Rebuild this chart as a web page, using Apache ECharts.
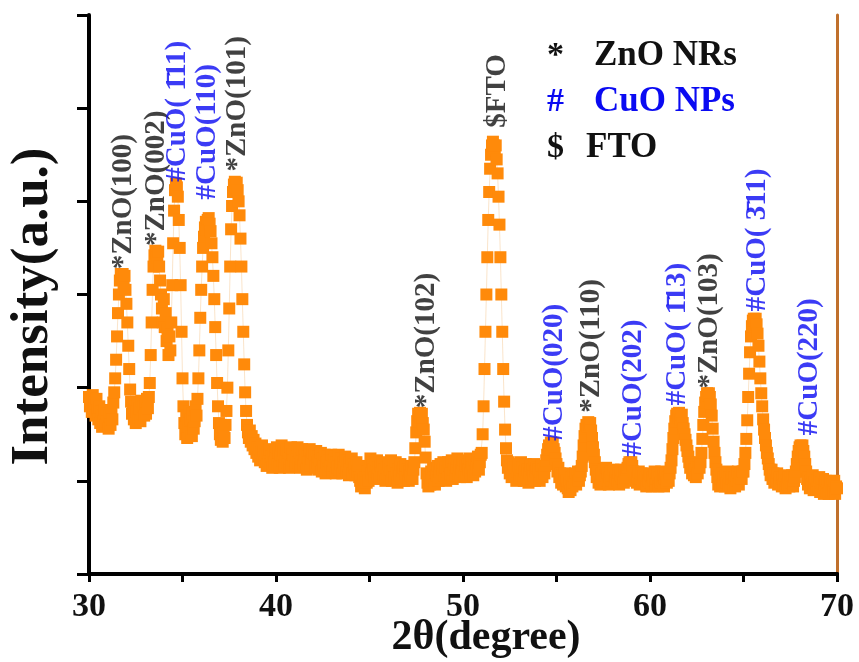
<!DOCTYPE html>
<html>
<head>
<meta charset="utf-8">
<script src="https://cdn.jsdelivr.net/npm/echarts@6/dist/echarts.min.js"></script>
<style>html,body{margin:0;padding:0;background:#fff}#c{width:859px;height:662px}</style>
</head>
<body>
<div id="c"></div>
<script>
const twoThetaStart = 30;
const twoThetaStep = 0.05;
const intensity = [
  1.90,1.80,1.86,1.74,1.92,1.78,1.84,1.70,1.88,1.76,1.66,1.80,1.62,1.74,1.58,1.70,1.64,1.76,1.60,1.72,
  1.64,1.56,1.70,1.60,1.76,1.66,1.84,1.95,2.10,2.30,2.55,2.80,3.00,3.15,3.22,3.18,3.22,3.12,3.20,3.05,
  2.90,2.70,2.45,2.20,1.98,1.85,1.72,1.80,1.66,1.76,1.62,1.74,1.84,1.68,1.78,1.64,1.86,1.72,1.80,1.70,
  1.82,1.72,1.88,1.78,1.90,2.05,2.35,2.70,3.05,3.30,3.42,3.47,3.44,3.40,3.46,3.30,3.15,3.00,2.85,2.70,
  2.95,2.65,2.80,2.50,2.62,2.35,2.55,2.40,2.70,3.10,3.55,3.90,4.12,4.19,4.15,4.05,3.80,3.50,3.10,2.60,
  2.10,1.80,1.62,1.50,1.70,1.46,1.58,1.74,1.52,1.66,1.48,1.72,1.56,1.64,1.80,1.70,1.88,2.10,2.40,2.75,
  3.05,3.30,3.50,3.62,3.72,3.78,3.70,3.80,3.82,3.76,3.68,3.55,3.40,3.20,2.95,2.65,2.35,2.05,1.80,1.62,
  1.50,1.44,1.58,1.42,1.52,1.46,1.60,1.75,2.00,2.40,2.85,3.30,3.70,3.95,4.10,4.18,4.21,4.15,4.20,4.12,
  4.00,3.85,3.60,3.30,2.95,2.60,2.25,1.95,1.75,1.60,1.52,1.46,1.54,1.42,1.48,1.38,1.44,1.34,1.40,1.30,
  1.36,1.26,1.34,1.22,1.30,1.38,1.24,1.32,1.20,1.28,1.16,1.30,1.22,1.34,1.18,1.26,1.14,1.28,1.20,1.32,
  1.24,1.36,1.18,1.30,1.14,1.28,1.38,1.22,1.32,1.16,1.26,1.34,1.20,1.30,1.14,1.24,1.36,1.18,1.28,1.22,
  1.32,1.16,1.26,1.36,1.20,1.30,1.14,1.24,1.34,1.18,1.28,1.22,1.32,1.12,1.26,1.20,1.34,1.16,1.24,1.30,
  1.18,1.28,1.14,1.32,1.20,1.26,1.12,1.22,1.30,1.10,1.24,1.16,1.28,1.08,1.20,1.26,1.12,1.22,1.16,1.28,
  1.10,1.22,1.16,1.26,1.08,1.20,1.14,1.28,1.12,1.18,1.24,1.08,1.20,1.14,1.26,1.10,1.22,1.16,1.06,1.20,
  1.12,1.24,1.08,1.18,1.14,1.06,1.20,1.10,1.16,1.04,1.00,0.94,1.06,0.96,1.02,0.92,1.04,0.98,1.10,1.00,
  1.16,1.24,1.08,1.20,1.12,1.04,1.18,1.10,1.22,1.06,1.14,1.02,1.16,1.08,1.20,1.04,1.12,1.00,1.14,1.08,
  1.18,1.04,1.12,1.22,1.00,1.10,1.16,1.04,1.20,1.08,0.98,1.12,1.06,1.18,1.02,1.10,1.14,1.00,1.08,1.16,
  1.04,1.12,1.00,1.10,1.06,1.16,1.02,1.12,1.20,1.35,1.52,1.64,1.72,1.70,1.73,1.68,1.72,1.62,1.55,1.42,
  1.25,1.08,0.98,0.94,1.04,0.96,1.10,1.00,1.14,1.04,0.96,1.12,1.06,1.16,1.00,1.10,1.18,1.04,1.12,1.20,
  1.06,1.14,1.00,1.10,1.20,1.04,1.16,1.08,1.22,1.02,1.12,1.18,1.06,1.14,1.24,1.08,1.16,1.04,1.12,1.20,
  1.10,1.22,1.06,1.16,1.04,1.18,1.12,1.24,1.08,1.20,1.14,1.06,1.22,1.10,1.18,1.14,1.26,1.12,1.20,1.28,
  1.30,1.50,1.80,2.20,2.60,3.00,3.40,3.80,4.10,4.35,4.50,4.60,4.64,4.60,4.55,4.60,4.45,4.30,4.05,3.75,
  3.40,3.00,2.60,2.20,1.85,1.55,1.35,1.22,1.14,1.20,1.08,1.16,1.04,1.12,1.18,1.06,1.14,1.00,1.10,1.16,
  1.04,1.12,1.20,1.06,1.14,1.00,1.10,1.18,1.04,1.12,0.98,1.08,1.16,1.02,1.12,1.06,1.18,1.00,1.10,1.14,
  1.04,1.12,1.00,1.10,1.16,1.04,1.12,1.08,1.16,1.22,1.28,1.34,1.38,1.36,1.41,1.38,1.40,1.34,1.30,1.24,
  1.18,1.10,1.14,1.04,1.08,0.98,1.06,0.96,1.02,1.08,0.94,1.00,0.92,0.88,0.98,0.90,1.04,0.94,1.06,0.98,
  1.08,0.96,1.04,1.10,1.00,1.06,1.10,1.16,1.26,1.38,1.48,1.56,1.60,1.58,1.63,1.60,1.62,1.54,1.46,1.36,
  1.28,1.20,1.12,1.04,1.10,0.98,1.06,0.96,1.08,1.02,1.12,0.98,1.06,1.14,1.00,1.08,0.96,1.04,1.10,1.00,
  1.06,1.12,0.98,1.04,1.10,1.00,1.08,0.96,1.06,1.12,1.02,1.08,0.98,1.10,1.04,1.12,1.14,1.18,1.20,1.17,
  1.20,1.16,1.10,1.06,1.00,1.08,0.98,1.04,1.10,0.96,1.02,1.08,0.98,1.06,1.00,1.04,0.94,1.06,1.00,1.08,
  0.98,1.06,0.94,1.04,1.00,1.10,0.96,1.02,1.08,0.94,1.04,0.98,1.10,1.00,1.06,0.94,1.02,1.08,0.98,1.04,
  1.00,1.08,1.14,1.22,1.34,1.46,1.56,1.64,1.70,1.72,1.68,1.73,1.70,1.66,1.71,1.62,1.56,1.50,1.44,1.38,
  1.32,1.26,1.20,1.14,1.18,1.08,1.16,1.06,1.12,1.04,1.14,1.08,1.18,1.14,1.20,1.30,1.45,1.60,1.74,1.84,
  1.90,1.94,1.92,1.94,1.90,1.82,1.70,1.56,1.42,1.30,1.20,1.12,1.04,0.96,1.06,0.94,1.02,1.08,0.96,1.04,
  0.94,1.06,0.98,1.10,0.96,1.04,0.92,1.02,1.08,0.96,1.04,0.94,1.06,1.00,1.10,0.96,1.04,1.08,1.02,1.10,
  1.10,1.18,1.30,1.45,1.65,1.90,2.15,2.38,2.55,2.66,2.72,2.74,2.72,2.74,2.68,2.58,2.45,2.28,2.10,1.94,
  1.80,1.66,1.55,1.46,1.38,1.30,1.24,1.18,1.12,1.06,1.12,1.02,1.08,0.98,1.06,1.00,1.08,0.96,1.04,0.98,
  1.04,0.94,1.02,0.96,1.06,0.92,1.00,0.96,1.04,0.94,1.02,0.98,1.06,0.94,1.00,1.04,1.10,1.18,1.26,1.32,
  1.36,1.38,1.34,1.38,1.32,1.26,1.18,1.10,1.02,0.96,1.04,0.92,1.00,0.96,1.06,0.90,0.98,1.02,0.92,1.00,
  0.94,1.04,0.88,0.98,0.92,1.02,0.86,0.96,1.00,0.90,0.98,0.86,0.94,1.00,0.88,0.96,0.90,1.00,0.86,0.94,
  0.92
];

// Peak annotations
const peakAngles = [31.87, 33.63, 34.75, 36.36, 37.96, 48.05, 51.85, 54.9, 56.87, 59.1, 61.46, 63.17, 65.74, 68.52];
const peakLabelBase = [3.27, 3.52, 4.21, 4.02, 4.32, 1.78, 4.79, 1.43, 1.73, 1.26, 1.81, 1.99, 2.82, 1.49];
const peakTexts = ['*ZnO(100)', '*ZnO(002)', '#CuO( 1\u030411)', '#CuO(110)', '*ZnO(101)', '*ZnO(102)', '$FTO',
                   '#CuO(020)', '*ZnO(110)', '#CuO(202)', '#CuO( 1\u030413)', '*ZnO(103)', '#CuO( 3\u030411)', '#CuO(220)'];
const peakPhase = ['ZnO', 'ZnO', 'CuO', 'CuO', 'ZnO', 'ZnO', 'FTO', 'CuO', 'ZnO', 'CuO', 'CuO', 'ZnO', 'CuO', 'CuO'];

// Legend
const legendSymbols = ['*', '#', '$'];
const legendTexts = ['ZnO NRs', 'CuO NPs', 'FTO'];
const legendPhase = ['ZnO', 'CuO', 'FTO'];

const xTicks = [30, 40, 50, 60, 70];

const phaseColor = { ZnO: '#111111', CuO: '#0a0af2', FTO: '#111111' };
const serif = '"Liberation Serif", "Times New Roman", serif';

const lineData = intensity.map((v, i) => [+(twoThetaStart + i * twoThetaStep).toFixed(2), v]);
const peakData = peakAngles.map((a, i) => ({
  value: [a, peakLabelBase[i]],
  name: peakTexts[i],
  label: { color: phaseColor[peakPhase[i]] }
}));

const legendGraphics = [];
legendSymbols.forEach((s, i) => {
  const y = 56 + i * 46;
  legendGraphics.push({
    type: 'text', silent: true,
    style: { x: 547, y: y, text: s, font: 'bold 34px ' + serif, fill: phaseColor[legendPhase[i]], verticalAlign: 'middle' }
  });
  legendGraphics.push({
    type: 'text', silent: true,
    style: { x: i === 2 ? 586 : 594, y: y, text: legendTexts[i], font: 'bold 35px ' + serif, fill: phaseColor[legendPhase[i]], verticalAlign: 'middle' }
  });
});

const chart = echarts.init(document.getElementById('c'), null, { renderer: 'canvas' });
chart.setOption({
  animation: false,
  backgroundColor: '#ffffff',
  grid: { left: 89, right: 22, top: 15, bottom: 88, containLabel: false, outerBoundsMode: 'none' },
  xAxis: [{
    type: 'value', min: 30, max: 70, interval: 5, position: 'bottom',
    name: '2θ(degree)', nameLocation: 'middle', nameGap: 43, nameMoveOverlap: false,
    nameTextStyle: { fontFamily: serif, fontWeight: 'bold', fontSize: 42, color: '#111', padding: [0, 0, 0, 46] },
    axisLine: { lineStyle: { color: '#000', width: 4 } },
    axisTick: { inside: false, length: 8, lineStyle: { color: '#000', width: 3 } },
    axisLabel: {
      margin: 16, fontFamily: serif, fontWeight: 'bold', fontSize: 34, color: '#111',
      formatter: v => (xTicks.indexOf(v) >= 0 ? String(v) : '')
    },
    splitLine: { show: false }
  }, {
    type: 'value', min: 30, max: 70, position: 'top',
    axisLine: { show: true, lineStyle: { color: '#000', width: 4 } },
    axisTick: { show: false }, axisLabel: { show: false }, splitLine: { show: false }
  }],
  yAxis: [{
    type: 'value', min: 0, max: 6, interval: 1, position: 'left',
    name: 'Intensity(a.u.)', nameLocation: 'middle', nameGap: 29, nameMoveOverlap: false,
    nameTextStyle: { fontFamily: serif, fontWeight: 'bold', fontSize: 53, color: '#111', padding: [0, 24, 0, 0] },
    axisLine: { show: true, lineStyle: { color: '#000', width: 4 } },
    axisTick: { show: true, inside: false, length: 12, lineStyle: { color: '#000', width: 3 } },
    axisLabel: { show: false },
    splitLine: { show: false }
  }, {
    type: 'value', min: 0, max: 6, position: 'right',
    axisLine: { show: true, lineStyle: { color: '#c0702c', width: 3 } },
    axisTick: { show: false }, axisLabel: { show: false }, splitLine: { show: false }
  }],
  series: [{
    type: 'line',
    data: lineData,
    symbol: 'rect',
    symbolSize: 12,
    showSymbol: true,
    showAllSymbol: true,
    itemStyle: { color: '#ff8a0a' },
    lineStyle: { color: '#f7d2a6', width: 0.6 },
    z: 2
  }, {
    type: 'scatter',
    data: peakData,
    symbolSize: 0,
    silent: true,
    z: 5,
    label: {
      show: true,
      position: 'inside',
      rotate: 90,
      align: 'left',
      verticalAlign: 'middle',
      formatter: p => p.name,
      fontFamily: serif,
      fontWeight: 'bold',
      fontSize: 29
    }
  }],
  graphic: legendGraphics
});
</script>
</body>
</html>
